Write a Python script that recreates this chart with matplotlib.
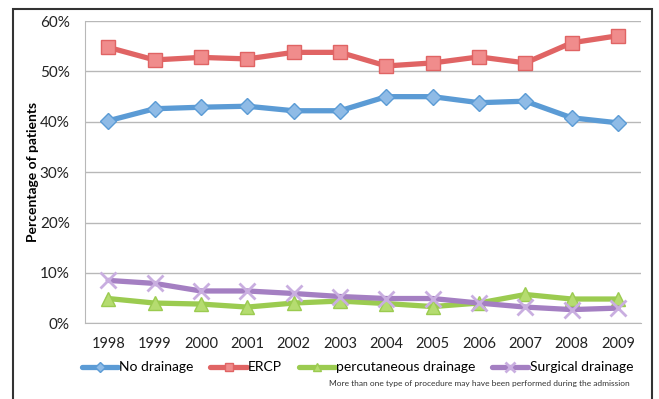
import matplotlib
matplotlib.use('Agg')
import matplotlib.pyplot as plt
from matplotlib.patches import Rectangle
from matplotlib.ticker import PercentFormatter

plt.rcParams['font.family'] = ['Lato', 'DejaVu Sans']

# data (percent of patients)
years = ['1998', '1999', '2000', '2001', '2002', '2003',
         '2004', '2005', '2006', '2007', '2008', '2009']
no_drainage = [40.2, 42.6, 42.9, 43.1, 42.2, 42.2, 45.0, 45.0, 43.8, 44.1, 40.8, 39.8]
ercp = [54.8, 52.3, 52.8, 52.5, 53.8, 53.8, 51.1, 51.7, 52.9, 51.7, 55.7, 57.1]
percutaneous = [4.9, 4.0, 3.8, 3.2, 4.0, 4.4, 3.9, 3.3, 4.0, 5.7, 4.8, 4.8]
surgical = [8.5, 7.9, 6.4, 6.4, 5.9, 5.3, 4.9, 4.9, 4.0, 3.2, 2.7, 3.0]

series = [
    ('No drainage', no_drainage, '#5b9bd5', '#8fbbe6', 'D', 8.5),
    ('ERCP', ercp, '#e06464', '#f08c8c', 's', 10.5),
    ('percutaneous drainage', percutaneous, '#9bcb50', '#b5dc70', '^', 10),
    ('Surgical drainage', surgical, '#a47fc2', '#c9aee0', 'x', 11),
]

fig = plt.figure(figsize=(6.59, 3.99), dpi=100)
ax = fig.add_axes([0.129, 0.190, 0.844, 0.757])

x = range(len(years))
for label, vals, col, fill, mk, ms in series:
    ax.plot(x, vals, color=col, lw=3.8, marker=mk, markersize=ms,
            markerfacecolor=fill, markeredgecolor=fill if mk == 'x' else col,
            markeredgewidth=2 if mk == 'x' else 1, label=label,
            solid_capstyle='round', zorder=3)

ax.set_xlim(-0.5, len(years) - 0.5)
ax.set_ylim(0, 60)
ax.set_yticks(range(0, 61, 10))
ax.yaxis.set_major_formatter(PercentFormatter(decimals=0))
ax.set_xticks(list(x))
ax.set_xticklabels(years)
ax.tick_params(axis='both', length=0, labelsize=10.5, colors='#222222')
ax.tick_params(axis='y', labelsize=11, pad=11)
ax.tick_params(axis='x', pad=10)
ax.grid(axis='y', color='#b8b8b8', lw=1)
ax.set_axisbelow(True)
for s in ['top', 'right']:
    ax.spines[s].set_visible(False)
ax.spines['left'].set_color('#b8b8b8')
ax.spines['bottom'].set_color('#b8b8b8')

ax.set_ylabel('Percentage of patients', fontsize=10, fontweight='bold')
ax.yaxis.set_label_coords(-0.083, 0.5)

ax.legend(loc='upper center', bbox_to_anchor=(0.49, -0.085), ncol=4, frameon=False,
          fontsize=10, handlelength=2.6, handletextpad=0.1, columnspacing=1.2,
          markerscale=0.6)

fig.text(0.955, 0.04, 'More than one type of procedure may have been performed during the admission',
         fontsize=6, ha='right', va='center', color='#333333')

# outer frame around the chart
fig.patches.append(Rectangle((0.020, -0.05), 0.970, 1.027, transform=fig.transFigure,
                             fill=False, lw=1.5, edgecolor='#333333'))

fig.savefig('out.png', dpi=100)
